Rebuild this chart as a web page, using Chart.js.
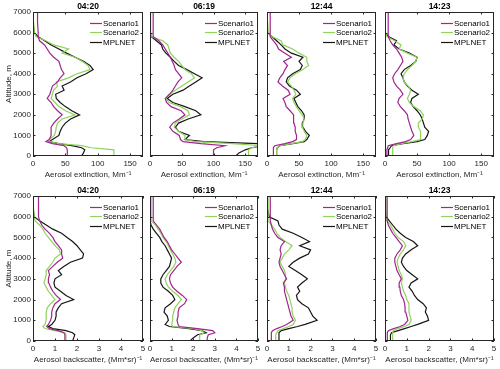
<!DOCTYPE html>
<html>
<head>
<meta charset="utf-8">
<script src="https://cdn.jsdelivr.net/npm/chart.js@4.4.1/dist/chart.umd.min.js"></script>
<style>
  body { margin: 0; background: #fff; }
  #fig { position: relative; width: 500px; height: 369px; }
  #fig canvas { position: absolute; left: 0; top: 0; }
</style>
</head>
<body>
<div id="fig"></div>
<script>
// ---- data ----
const times = ["04:20", "06:19", "12:44", "14:23"];
const seriesNames = ["Scenario1", "Scenario2", "MPLNET"];
const altitude = [0, 150, 300, 400, 500, 600, 700, 800, 1000, 1200, 1400, 1600, 1800, 2000, 2200, 2400, 2600, 2800,
  3000, 3200, 3400, 3600, 3800, 4000, 4200, 4400, 4600, 4800, 5000, 5200, 5400, 5600, 5800, 6000, 6500, 7000];
const altTicks = [0, 1000, 2000, 3000, 4000, 5000, 6000, 7000];
const extTicks = [0, 50, 100, 150];
const bscTicks = [0, 1, 2, 3, 4, 5];

// extinction, Mm^-1
const ext0420S1 = [53,53,53,52,48,30,20,25,28,28,28,32,38,45,38,32,28,22,26,28,30,38,42,48,44,42,40,32,26,22,18,10,8,8,7,7];
const ext0420S2 = [125,125,125,90,75,40,25,25,33,35,36,38,45,65,50,40,34,28,30,32,38,36,55,68,88,85,76,65,45,55,32,20,5,2,1,0];
const ext0420M  = [75,78,80,75,60,40,25,30,40,42,45,50,58,72,60,50,42,36,35,48,45,58,68,82,93,88,78,65,52,40,28,18,8,2,0,0];
const ext0619S1 = [100,100,100,105,118,80,52,48,46,36,31,36,46,55,49,33,26,24,31,36,40,44,50,45,40,38,35,32,28,24,20,14,5,5,5,5];
const ext0619S2 = [155,155,155,160,175,130,72,55,55,45,38,40,50,62,60,48,30,25,30,40,50,60,70,65,55,50,45,38,32,30,28,20,3,1,1,1];
const ext0619M  = [135,140,150,160,180,175,85,55,62,45,40,45,60,80,72,55,36,27,36,52,62,72,82,70,58,45,38,32,25,20,18,10,2,0,0,0];
const ext1244S1 = [10,10,10,10,12,28,40,46,46,44,44,42,42,41,36,30,28,25,36,33,24,17,20,25,28,32,26,38,28,18,15,10,5,5,5,5];
const ext1244S2 = [15,15,15,16,20,38,55,60,62,58,55,56,58,55,50,46,42,40,45,42,38,32,36,44,56,65,62,62,50,40,25,22,8,2,1,0];
const ext1244M  = [15,15,15,16,20,40,58,62,66,60,56,55,58,58,54,48,45,42,52,46,35,30,32,40,52,55,50,56,38,28,22,15,8,1,0,0];
const ext1423S1 = [3,3,3,4,5,18,32,40,45,42,40,38,36,35,30,24,20,22,28,24,18,14,12,15,20,24,28,26,22,18,12,8,5,5,5,5];
const ext1423S2 = [12,12,12,12,13,25,42,55,55,56,52,52,58,60,55,45,38,35,38,40,36,30,28,30,35,42,48,50,35,22,25,15,3,1,1,0];
const ext1423M  = [5,5,6,8,10,28,50,62,66,68,62,60,58,55,50,44,40,42,52,42,35,30,28,25,30,40,48,50,38,22,14,18,6,0,0,0];

// backscatter, (Mm*sr)^-1
const bsc0420S1 = [1.45,1.45,1.45,1.4,1.15,0.75,0.62,0.7,0.8,0.85,0.85,0.9,1.0,1.25,1.05,0.9,0.8,0.72,0.7,0.75,0.7,0.9,1.1,1.35,1.3,1.3,1.15,1.0,0.9,0.75,0.55,0.4,0.3,0.25,0.25,0.25];
const bsc0420S2 = [1.5,1.5,1.5,1.45,1.0,0.55,0.45,0.55,0.6,0.6,0.6,0.65,0.8,1.0,0.85,0.7,0.6,0.5,0.55,0.6,0.6,0.75,0.9,1.0,1.25,1.2,1.0,0.85,0.7,0.55,0.45,0.3,0.1,0.05,0.02,0];
const bsc0420M  = [1.8,1.85,1.9,1.8,1.5,0.9,0.7,0.85,1.0,1.05,1.05,1.15,1.3,1.85,1.5,1.25,1.0,0.95,1.0,1.3,1.15,1.4,1.7,2.25,2.3,2.15,2.0,1.8,1.55,1.3,0.9,0.6,0.3,0.05,0,0];
const bsc0619S1 = [2.65,2.65,2.7,3.0,2.9,2.2,1.35,1.3,1.25,1.3,1.3,1.35,1.6,1.7,1.5,1.25,1.05,0.95,0.9,0.95,1.1,1.25,1.45,1.3,1.15,1.0,0.9,0.8,0.65,0.55,0.45,0.3,0.15,0.15,0.15,0.15];
const bsc0619S2 = [2.3,2.3,2.3,2.5,2.4,2.0,1.05,1.0,1.05,1.05,1.1,1.15,1.3,1.45,1.3,1.05,0.85,0.75,0.7,0.8,0.95,1.1,1.2,1.15,1.05,0.95,0.85,0.75,0.6,0.5,0.38,0.25,0.05,0.05,0.05,0.05];
const bsc0619M  = [1.85,2.0,2.2,2.6,2.4,1.8,0.9,0.7,0.85,0.8,0.65,0.7,0.95,1.15,1.05,0.85,0.6,0.5,0.5,0.6,0.75,0.9,0.95,1.0,0.9,0.8,0.7,0.55,0.45,0.3,0.15,0.05,0,0,0,0];
const bsc1244S1 = [0.2,0.2,0.2,0.2,0.25,0.45,0.7,0.9,1.2,1.1,1.05,1.0,0.95,0.9,0.85,0.8,0.8,0.75,0.9,0.8,0.7,0.6,0.55,0.6,0.65,0.6,0.65,0.8,0.5,0.35,0.25,0.2,0.15,0.15,0.15,0.15];
const bsc1244S2 = [0.4,0.4,0.4,0.45,0.5,0.75,1.0,1.2,1.3,1.2,1.15,1.15,1.1,1.05,1.0,0.9,0.85,0.8,0.85,0.85,0.8,0.7,0.6,0.7,0.8,1.0,1.15,0.85,0.6,0.45,0.35,0.2,0.05,0.05,0.05,0.05];
const bsc1244M  = [0.55,0.55,0.55,0.55,0.65,1.0,1.4,1.75,2.3,2.1,2.0,1.9,1.6,1.4,1.35,1.5,1.4,1.6,1.85,1.6,1.3,1.0,1.2,1.5,1.9,2.0,1.5,1.95,1.6,1.2,0.7,0.55,0.5,0.1,0,0];
const bsc1423S1 = [0.1,0.1,0.1,0.12,0.15,0.4,0.7,0.9,1.05,1.0,0.95,0.92,0.9,0.85,0.75,0.7,0.68,0.65,0.75,0.65,0.55,0.5,0.45,0.45,0.55,0.7,0.8,0.65,0.5,0.35,0.25,0.15,0.1,0.1,0.1,0.1];
const bsc1423S2 = [0.35,0.35,0.35,0.35,0.38,0.6,0.9,1.1,1.2,1.15,1.1,1.1,1.1,1.0,0.95,0.85,0.8,0.75,0.8,0.75,0.65,0.6,0.55,0.6,0.7,0.85,0.95,0.85,0.6,0.45,0.35,0.25,0.1,0.05,0.05,0.05];
const bsc1423M  = [0.25,0.25,0.25,0.3,0.6,0.9,1.2,1.5,2.0,1.95,1.85,1.9,1.75,1.5,1.35,1.25,1.1,1.2,1.5,1.25,1.0,0.85,0.75,0.8,0.95,1.2,1.5,1.3,0.95,0.7,0.5,0.35,0.2,0.05,0,0];

// ---- layout and style ----
const colors = ["#a1248f", "#8fd35a", "#161616"];
const axisColor = "#262626";
const fontFamily = '"Liberation Sans", Arial, Helvetica, sans-serif';
const colLeft = [33, 150, 267, 385];
const colRight = [143, 258, 376, 494];
const rowTop = [12, 196];
const rowBottom = [156, 341];
const tickLen = 2.5;

const rows = [
  { series: [[ext0420S1, ext0420S2, ext0420M], [ext0619S1, ext0619S2, ext0619M],
             [ext1244S1, ext1244S2, ext1244M], [ext1423S1, ext1423S2, ext1423M]],
    xMax: 170, xTicks: extTicks, xTitle: "Aerosol extinction, Mm\u207B\u00B9" },
  { series: [[bsc0420S1, bsc0420S2, bsc0420M], [bsc0619S1, bsc0619S2, bsc0619M],
             [bsc1244S1, bsc1244S2, bsc1244M], [bsc1423S1, bsc1423S2, bsc1423M]],
    xMax: 5, xTicks: bscTicks, xTitle: "Aerosol backscatter, (Mm*sr)\u207B\u00B9" }
];

// MATLAB-like box, inward ticks and legend inside the axes
const matlabAxes = {
  id: "matlabAxes",
  afterDatasetsDraw(chart, args, opts) {
    const { ctx, chartArea: a, scales: { x, y } } = chart;
    ctx.save();
    ctx.strokeStyle = axisColor;
    ctx.lineWidth = 1;
    ctx.beginPath();
    opts.xTicks.forEach(v => {
      const px = Math.round(x.getPixelForValue(v)) + 0.5;
      ctx.moveTo(px, a.bottom); ctx.lineTo(px, a.bottom - tickLen);
      ctx.moveTo(px, a.top); ctx.lineTo(px, a.top + tickLen);
    });
    altTicks.forEach(v => {
      const py = Math.round(y.getPixelForValue(v)) + 0.5;
      ctx.moveTo(a.left, py); ctx.lineTo(a.left + tickLen, py);
      ctx.moveTo(a.right, py); ctx.lineTo(a.right - tickLen, py);
    });
    ctx.stroke();
    ctx.strokeRect(a.left + 0.5, a.top + 0.5, a.width - 1, a.height - 1);

    ctx.font = "8px " + fontFamily;
    ctx.textBaseline = "middle";
    ctx.textAlign = "left";
    chart.data.datasets.forEach((ds, i) => {
      const ly = Math.round(a.top + 10.5 + i * 9.5) + 0.5;
      ctx.strokeStyle = ds.borderColor;
      ctx.lineWidth = 1.2;
      ctx.beginPath();
      ctx.moveTo(a.right - 53, ly);
      ctx.lineTo(a.right - 41, ly);
      ctx.stroke();
      ctx.fillStyle = "#000";
      ctx.fillText(ds.label, a.right - 40, ly);
    });
    ctx.restore();
  }
};

const fig = document.getElementById("fig");
const tickFont = { family: fontFamily, size: 8 };

rows.forEach((row, r) => {
  row.series.forEach((panel, c) => {
    const L = colLeft[c], R = colRight[c], T = rowTop[r], B = rowBottom[r];
    const yW = c === 0 ? 33 : 0;
    const xH = 24;
    const titleH = 10;

    const canvas = document.createElement("canvas");
    canvas.width = 500;
    canvas.height = 369;
    fig.appendChild(canvas);

    new Chart(canvas, {
      type: "scatter",
      data: {
        datasets: panel.map((vals, k) => ({
          label: seriesNames[k],
          data: altitude.map((alt, j) => ({ x: vals[j], y: alt })),
          showLine: true,
          borderColor: colors[k],
          borderWidth: 1.2,
          pointRadius: 0,
          tension: 0
        }))
      },
      plugins: [matlabAxes],
      options: {
        responsive: false,
        animation: false,
        events: [],
        layout: { padding: { left: L - yW, right: 500 - R, top: T - titleH, bottom: 369 - B - xH } },
        plugins: {
          legend: { display: false },
          tooltip: { enabled: false },
          title: {
            display: true,
            text: times[c],
            fullSize: false,
            color: "#000",
            font: { family: fontFamily, size: 8.5, weight: "bold", lineHeight: 1 },
            padding: { top: 0, bottom: 1.5 }
          },
          matlabAxes: { xTicks: row.xTicks }
        },
        scales: {
          x: {
            type: "linear",
            min: 0,
            max: row.xMax,
            afterBuildTicks: s => { s.ticks = row.xTicks.map(v => ({ value: v })); },
            afterFit: s => { s.height = xH; },
            grid: { display: false, drawTicks: false },
            border: { display: false },
            ticks: { padding: 3, font: tickFont, color: axisColor, maxRotation: 0, minRotation: 0,
                      autoSkip: false, callback: v => String(v) },
            title: { display: true, text: row.xTitle, color: axisColor,
                     font: { family: fontFamily, size: 8, lineHeight: 1.2 }, padding: 0 }
          },
          y: {
            type: "linear",
            min: 0,
            max: 7000,
            afterBuildTicks: s => { s.ticks = altTicks.map(v => ({ value: v })); },
            afterFit: s => { s.width = yW; },
            grid: { display: false, drawTicks: false },
            border: { display: false },
            ticks: { display: c === 0, padding: 2, font: tickFont, color: axisColor, callback: v => String(v) },
            title: { display: c === 0, text: "Altitude, m", color: axisColor,
                     font: { family: fontFamily, size: 8, lineHeight: 1.2 }, padding: { top: 3.5, bottom: 0 } }
          }
        }
      }
    });
  });
});
</script>
</body>
</html>
